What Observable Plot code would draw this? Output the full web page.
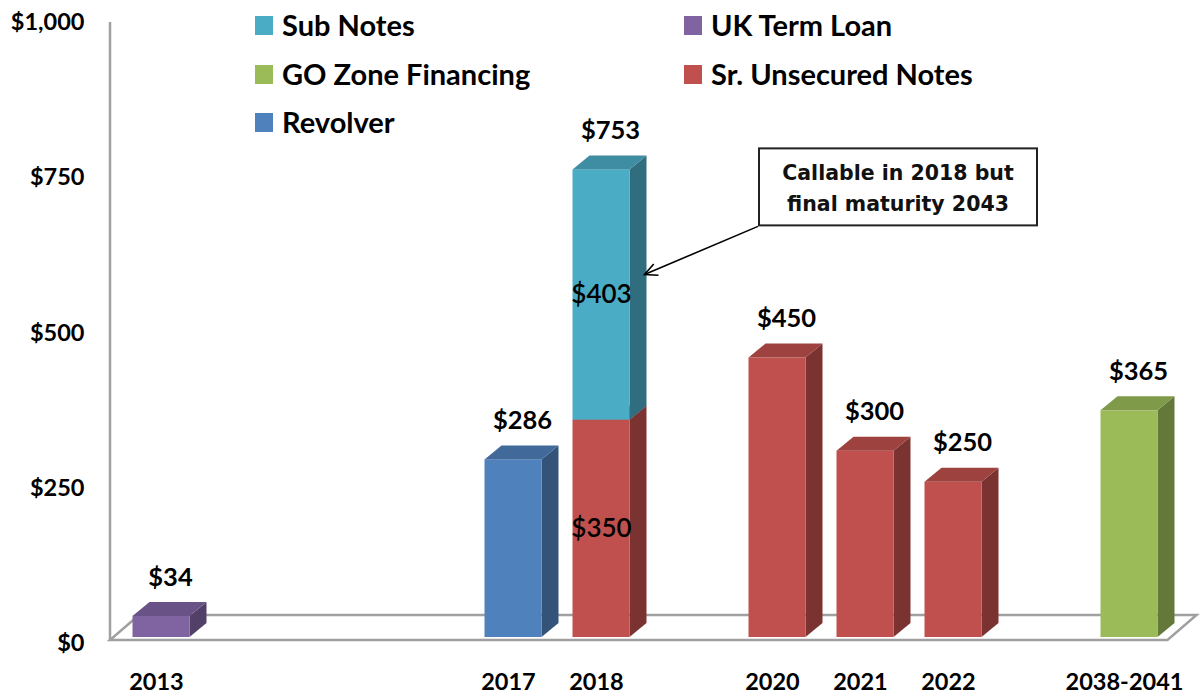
<!DOCTYPE html>
<html><head><meta charset="utf-8">
<script src="https://cdn.jsdelivr.net/npm/d3@7"></script>
<script src="https://cdn.jsdelivr.net/npm/@observablehq/plot@0.6"></script>
<style>
body{margin:0;background:#fff;}
#wrap{position:relative;width:1204px;height:696px;font-family:Lato,sans-serif;overflow:hidden;}
#wrap svg{position:absolute;left:0;top:0;}
.leg{position:absolute;font-weight:700;font-size:29px;color:#000;display:flex;align-items:center;white-space:nowrap;height:34px;line-height:34px;}
.sw{width:18px;height:19px;margin-right:9px;flex:none;}
</style></head><body><div id="wrap"></div>
<script>
// ---- data ----
const periods = ["2013","2014","2015","2016","2017","2018","2019","2020","2021","2022","2023-2037","2038-2041"];
const categories = ["2013","2017","2018","2020","2021","2022","2038-2041"];
const srUnsecuredNotes = [0, 0, 350, 450, 300, 250, 0];
const subNotes         = [0, 0, 403, 0, 0, 0, 0];
const revolver         = [0, 286, 0, 0, 0, 0, 0];
const ukTermLoan       = [34, 0, 0, 0, 0, 0, 0];
const goZoneFinancing  = [0, 0, 0, 0, 0, 0, 365];
const seriesNames  = ["Sr. Unsecured Notes", "Sub Notes", "Revolver", "UK Term Loan", "GO Zone Financing"];
const seriesColors = ["#C0504D", "#4BACC6", "#4F81BD", "#8064A2", "#9BBB59"];
const legendOrder  = ["Sub Notes", "UK Term Loan", "GO Zone Financing", "Sr. Unsecured Notes", "Revolver"];
const yTicks = [0, 250, 500, 750, 1000];
const calloutLines = ["Callable in 2018 but", "final maturity 2043"];
const calloutPeriod = "2018";

// ---- derived tables ----
const seriesValues = [srUnsecuredNotes, subNotes, revolver, ukTermLoan, goZoneFinancing];
const colorOf = Object.fromEntries(seriesNames.map((n, i) => [n, seriesColors[i]]));
const segments = [];
const totals = [];
categories.forEach((p, i) => {
  let base = 0;
  const segs = [];
  seriesNames.forEach((s, k) => {
    const v = seriesValues[k][i];
    if (v > 0) { segs.push({period: p, series: s, y1: base, y2: base + v, value: v}); base += v; }
  });
  segs.forEach(d => d.count = segs.length);
  segments.push(...segs);
  totals.push({period: p, total: base});
});
const innerLabels = segments.filter(d => d.count > 1).map(d => ({period: d.period, mid: (d.y1 + d.y2) / 2, value: d.value}));

const HW = 28.5, DX = 17, DY = -14;
const money = v => "$" + d3.format(",")(v);

function floorMark(index, scales, values, dims) {
  const {x, y} = scales;
  const g = d3.create("svg:g");
  const left = dims.marginLeft;
  const right = x(periods[periods.length - 1]) + HW + 10;
  const fy = y(0) + 3, by = fy - 25, fdx = 29;
  g.append("polygon")
    .attr("points", [[left, fy], [right, fy], [right + fdx, by], [left + fdx, by]].map(p => p.join(",")).join(" "))
    .attr("fill", "#fff").attr("stroke", "#A0A0A0").attr("stroke-width", 2.5).attr("stroke-linejoin", "miter");
  g.append("line").attr("x1", left).attr("x2", left).attr("y1", y(1000) + 6).attr("y2", fy)
    .attr("stroke", "#A0A0A0").attr("stroke-width", 2.5);
  return g.node();
}

function barsMark(index, scales) {
  const {x, y} = scales;
  const g = d3.create("svg:g");
  const pts = a => a.map(p => p.join(",")).join(" ");
  for (const d of segments) {
    const c = d3.color(colorOf[d.series]);
    const side = c.darker(1.25).formatHex();
    const top = c.darker(0.55).formatHex();
    const xc = x(d.period), x0 = xc - HW, x1 = xc + HW;
    const y0 = y(d.y1), y1 = y(d.y2);
    g.append("polygon").attr("points", pts([[x1, y0], [x1 + DX, y0 + DY], [x1 + DX, y1 + DY], [x1, y1]])).attr("fill", side);
    g.append("rect").attr("x", x0).attr("y", y1).attr("width", x1 - x0).attr("height", y0 - y1).attr("fill", c.formatHex());
    g.append("polygon").attr("points", pts([[x0, y1], [x0 + DX, y1 + DY], [x1 + DX, y1 + DY], [x1, y1]])).attr("fill", top);
  }
  return g.node();
}

function calloutMark(index, scales) {
  const {x, y} = scales;
  const g = d3.create("svg:g");
  const ax = x(calloutPeriod), seg = segments.find(d => d.period === calloutPeriod && d.series === "Sub Notes");
  const tip = [ax + HW + 15, y(seg.y1 + seg.value * 0.58)];
  const bx = ax + 158, byTop = y(seg.y2) - 21, bw = 278, bh = 77;
  const tail = [bx - 1, byTop + bh + 1];
  g.append("line").attr("x1", tail[0]).attr("y1", tail[1]).attr("x2", tip[0]).attr("y2", tip[1])
    .attr("stroke", "#000").attr("stroke-width", 1.6);
  const ang = Math.atan2(tail[1] - tip[1], tail[0] - tip[0]);
  const L = 14, spread = 0.45;
  const head = [[tip[0] + L * Math.cos(ang - spread), tip[1] + L * Math.sin(ang - spread)], tip,
                [tip[0] + L * Math.cos(ang + spread), tip[1] + L * Math.sin(ang + spread)]];
  g.append("polyline").attr("points", head.map(p => p.join(",")).join(" "))
    .attr("fill", "none").attr("stroke", "#000").attr("stroke-width", 1.6);
  g.append("rect").attr("x", bx).attr("y", byTop).attr("width", bw).attr("height", bh)
    .attr("fill", "#fff").attr("stroke", "#222").attr("stroke-width", 2);
  calloutLines.forEach((t, i) => {
    g.append("text").attr("x", bx + bw / 2).attr("y", byTop + 24 + i * 31).attr("dy", "0.35em")
      .attr("text-anchor", "middle").attr("font-family", "'DejaVu Sans', sans-serif")
      .attr("font-weight", "bold").attr("font-size", 20.5).attr("fill", "#111").text(t);
  });
  return g.node();
}

const chart = Plot.plot({
  width: 1204,
  height: 696,
  marginLeft: 110,
  marginRight: 10,
  marginTop: 16,
  marginBottom: 56,
  style: {fontFamily: "Lato, sans-serif", background: "transparent", color: "#000"},
  x: {type: "point", domain: periods, range: [160, 1130], padding: 0},
  y: {domain: [0, 1000], range: [637, 16]},
  marks: [
    floorMark,
    barsMark,
    Plot.axisY(yTicks, {tickSize: 0, tickPadding: 26, dy: 6, tickFormat: money, fontSize: 23.5, fontWeight: "bold", label: null}),
    Plot.axisX(categories, {tickSize: 0, tickPadding: 33, dx: -5, fontSize: 23.5, fontWeight: "bold", label: null}),
    Plot.text(totals, {x: "period", y: "total", text: d => money(d.total), dx: 9, dy: -39, fontSize: 25.5, fontWeight: "bold", fill: "#000"}),
    Plot.text(innerLabels, {x: "period", y: "mid", text: d => money(d.value), fontSize: 26, fontWeight: 600, fill: "#000"}),
    calloutMark
  ]
});

const wrap = document.getElementById("wrap");
wrap.appendChild(chart);

// legend overlay (two columns, three rows)
const legCols = [255, 684], legRows = [25, 74, 122];
legendOrder.forEach((name, i) => {
  const col = i % 2, row = Math.floor(i / 2);
  const div = document.createElement("div");
  div.className = "leg";
  div.style.left = legCols[col] + "px";
  div.style.top = (legRows[row] - 17) + "px";
  const sw = document.createElement("span");
  sw.className = "sw";
  sw.style.background = colorOf[name];
  div.appendChild(sw);
  div.appendChild(document.createTextNode(name));
  wrap.appendChild(div);
});
</script>
</body></html>
